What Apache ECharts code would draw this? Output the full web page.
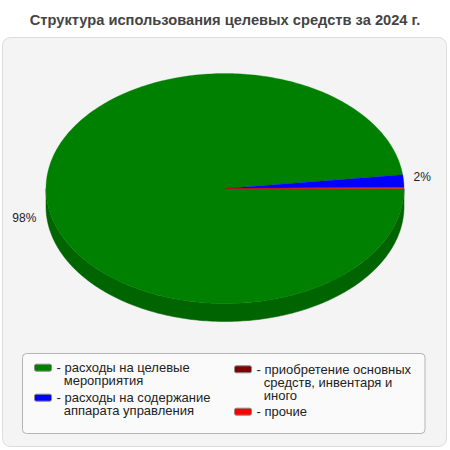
<!DOCTYPE html>
<html>
<head>
<meta charset="utf-8">
<script src="https://cdn.jsdelivr.net/npm/echarts@6/dist/echarts.min.js"></script>
<style>
html,body{margin:0;padding:0;background:#fff;}
#chart{width:450px;height:450px;}
</style>
</head>
<body>
<div id="chart"></div>
<script>
// ---- data ----
const titleText = 'Структура использования целевых средств за 2024 г.';
const categories = [
  'расходы на целевые мероприятия',
  'расходы на содержание аппарата управления',
  'приобретение основных средств, инвентаря и иного',
  'прочие'
];
const values = [98.1, 1.7, 0.05, 0.15];
const colors = ['#008000', '#0000ff', '#800000', '#ff0000'];
const legendLines = [
  ['- расходы на целевые', '  мероприятия'],
  ['- расходы на содержание', '  аппарата управления'],
  ['- приобретение основных', '  средств, инвентаря и', '  иного'],
  ['- прочие']
];

// ---- layout ----
const CX = 225, CY = 188.5, RX = 179, RY = 115, DEPTH = 18;
const FONT = "'Liberation Sans', Arial, sans-serif";
const LH = 13;

function darken(hex, f) {
  const n = parseInt(hex.slice(1), 16);
  const r = Math.round(((n >> 16) & 255) * f), g = Math.round(((n >> 8) & 255) * f), b = Math.round((n & 255) * f);
  return 'rgb(' + r + ',' + g + ',' + b + ')';
}
function ept(a, rx, ry, dy) {
  return [CX + rx * Math.cos(a), CY + (dy || 0) + ry * Math.sin(a)];
}
function arcPts(a0, a1, rx, ry, dy) {
  const n = Math.max(2, Math.ceil(Math.abs(a1 - a0) / (Math.PI / 180)));
  const pts = [];
  for (let i = 0; i <= n; i++) pts.push(ept(a0 + (a1 - a0) * i / n, rx, ry, dy));
  return pts;
}

const total = values.reduce((s, v) => s + v, 0);

function makeRenderItem(idx) {
  return function (params, api) {
    let before = 0;
    for (let j = 0; j < idx; j++) before += values[j];
    const v = api.value(0);
    const a0 = before / total * Math.PI * 2;
    const a1 = (before + v) / total * Math.PI * 2;
    const color = colors[idx];
    const side = darken(color, 0.78);
    const children = [];
    // side faces (front half only)
    [[0, Math.PI], [2 * Math.PI, 3 * Math.PI]].forEach(function (rng) {
      const s = Math.max(a0, rng[0]), e = Math.min(a1, rng[1]);
      if (e > s) {
        const top = arcPts(s, e, RX, RY, 0);
        const bot = arcPts(e, s, RX, RY, DEPTH);
        children.push({ type: 'polygon', shape: { points: top.concat(bot) }, style: { fill: side, stroke: side, lineWidth: 0.5 } });
      }
    });
    // top face
    const pts = [[CX, CY]].concat(arcPts(a0, a1, RX, RY, 0));
    children.push({ type: 'polygon', shape: { points: pts }, style: { fill: color, stroke: color, lineWidth: 0.3 } });
    // label
    const pct = Math.round(v / total * 100);
    if (pct >= 1) {
      const m = (a0 + a1) / 2;
      const c = Math.cos(m), s = Math.sin(m);
      const lx = CX + (RX + 10) * c;
      const ly = CY + (RY + 10) * s + (s > 0 ? DEPTH + 4 : -3);
      children.push({
        type: 'text',
        style: {
          text: pct + '%', x: lx, y: ly,
          align: c < 0 ? 'right' : 'left', verticalAlign: 'middle',
          fill: '#222', fontSize: 12, fontFamily: FONT
        }
      });
    }
    return { type: 'group', children: children };
  };
}

const series = categories.map(function (name, i) {
  return {
    type: 'custom',
    name: name,
    coordinateSystem: 'none',
    itemStyle: { color: colors[i] },
    data: [[values[i]]],
    renderItem: makeRenderItem(i),
    animation: false
  };
});

const legendCommon = {
  orient: 'vertical',
  padding: 0,
  itemWidth: 17,
  itemHeight: 7,
  icon: 'roundRect',
  itemStyle: { borderColor: '#8a8a8a', borderWidth: 1 },
  textStyle: { fontSize: 13, color: '#222', lineHeight: LH, fontFamily: FONT },
  // leading empty lines keep the swatch level with the first text line
  formatter: function (name) {
    const lines = legendLines[categories.indexOf(name)];
    return '\n'.repeat(lines.length - 1) + lines.join('\n');
  },
  selectedMode: false
};

const chart = echarts.init(document.getElementById('chart'), null, { renderer: 'svg' });
chart.setOption({
  animation: false,
  backgroundColor: '#ffffff',
  title: {
    text: titleText,
    left: 'center',
    top: 12,
    padding: 0,
    textStyle: { fontSize: 14.67, fontWeight: 'bold', color: '#444', fontFamily: FONT }
  },
  graphic: [
    { type: 'rect', z: -10, shape: { x: 2.5, y: 37.5, width: 444, height: 409, r: 8 }, style: { fill: '#f4f4f4', stroke: '#dcdcdc', lineWidth: 1 } },
    { type: 'rect', z: -9, shape: { x: 22.5, y: 353.5, width: 402.5, height: 80, r: 4 }, style: { fill: '#fafafa', stroke: '#b4b4b4', lineWidth: 1 } }
  ],
  legend: [
    Object.assign({}, legendCommon, { left: 34, top: 367.7 - 1.5 * LH, itemGap: -9, data: [categories[0], categories[1]] }),
    Object.assign({}, legendCommon, { left: 234, top: 369.3 - 2.5 * LH, itemGap: 3.4, data: [categories[2], categories[3]] })
  ],
  series: series
});
</script>
</body>
</html>
